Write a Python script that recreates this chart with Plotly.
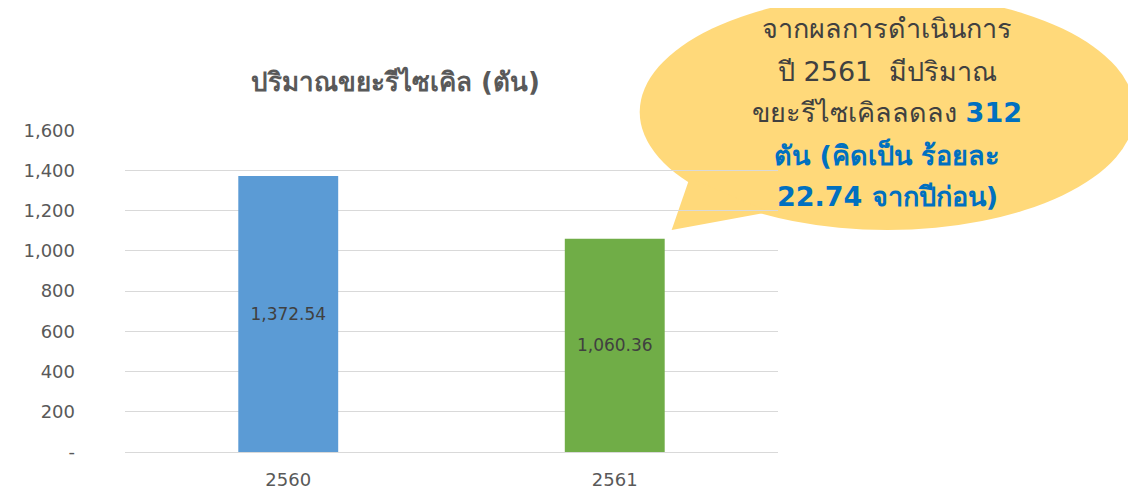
import plotly.graph_objects as go

years = ["2560", "2561"]
tons = [1372.54, 1060.36]
bar_colors = ["#5B9BD5", "#70AD47"]
tick_vals = [0, 200, 400, 600, 800, 1000, 1200, 1400, 1600]
tick_text = ["-", "200", "400", "600", "800", "1,000", "1,200", "1,400", "1,600"]
title_text = "ปริมาณขยะรีไซเคิล (ตัน)"
bubble_lines = [
    ("จากผลการดำเนินการ", "#404040", False),
    ("ปี 2561  มีปริมาณ", "#404040", False),
    ("ขยะรีไซเคิลลดลง <b><span style='color:#0070C0'>312</span></b>", "#404040", False),
    ("ตัน (คิดเป็น ร้อยละ", "#0070C0", True),
    ("22.74 จากปีก่อน)", "#0070C0", True),
]

# page is rendered with the default 8px body margin
OFF = 8
W, H = 1136 - OFF, 494 - OFF
# plot area in page pixels
L, R, T, B = 124.5, 778.5, 130, 452

def px(x):
    return (x - L) / (R - L)

def py(y):
    return (B - y) / (B - T)

FONT = "DejaVu Sans, Noto Sans, sans-serif"

fig = go.Figure()
fig.add_trace(go.Bar(
    x=years, y=tons, marker=dict(color=bar_colors, line=dict(width=0)),
    width=0.306,
    text=[f"{v:,.2f}" for v in tons], textposition="inside",
    insidetextanchor="middle", textangle=0,
    textfont=dict(family=FONT, size=17, color="#404040"),
    hoverinfo="skip",
))

# callout bubble (ellipse + tail)
cx, cy, rx, ry = 888, 112, 248, 118
fig.add_shape(type="circle", xref="paper", yref="paper",
              x0=px(cx - rx), x1=px(cx + rx), y0=py(cy + ry), y1=py(cy - ry),
              fillcolor="#FFD97A", line=dict(width=0), layer="below")
tail = [(690, 178), (672, 230), (770, 212)]
path = "M " + " L ".join(f"{px(a)},{py(b)}" for a, b in tail) + " Z"
fig.add_shape(type="path", xref="paper", yref="paper", path=path,
              fillcolor="#FFD97A", line=dict(width=0), layer="below")

line_y = [29, 71, 112, 154, 196]
for (txt, col, bold), yy in zip(bubble_lines, line_y):
    fig.add_annotation(xref="paper", yref="paper", x=px(888), y=py(yy),
                       text=f"<b>{txt}</b>" if bold else txt, showarrow=False,
                       xanchor="center", yanchor="middle",
                       font=dict(family=FONT, size=27, color=col))

fig.add_annotation(xref="paper", yref="paper", x=px(395), y=py(82),
                   text=f"<b>{title_text}</b>", showarrow=False,
                   xanchor="center", yanchor="middle",
                   font=dict(family=FONT, size=26, color="#595959"))

fig.update_layout(
    width=W, height=H,
    margin=dict(l=L - OFF, r=1136 - R, t=T - OFF, b=494 - B, pad=0, autoexpand=False),
    paper_bgcolor="rgba(0,0,0,0)", plot_bgcolor="rgba(0,0,0,0)",
    showlegend=False,
    xaxis=dict(range=[-0.5, 1.5], showgrid=False, zeroline=False, showline=False,
               ticks="", ticklabelstandoff=15, automargin=False,
               tickfont=dict(family=FONT, size=18, color="#595959")),
    yaxis=dict(range=[0, 1601], tickvals=tick_vals, ticktext=tick_text,
               showgrid=True, gridcolor="#D9D9D9", gridwidth=1,
               zeroline=True, zerolinecolor="#D9D9D9", zerolinewidth=1,
               showline=False, ticks="", ticklabelstandoff=49, automargin=False,
               tickfont=dict(family=FONT, size=18, color="#595959")),
)

fig.write_html("out.html")
